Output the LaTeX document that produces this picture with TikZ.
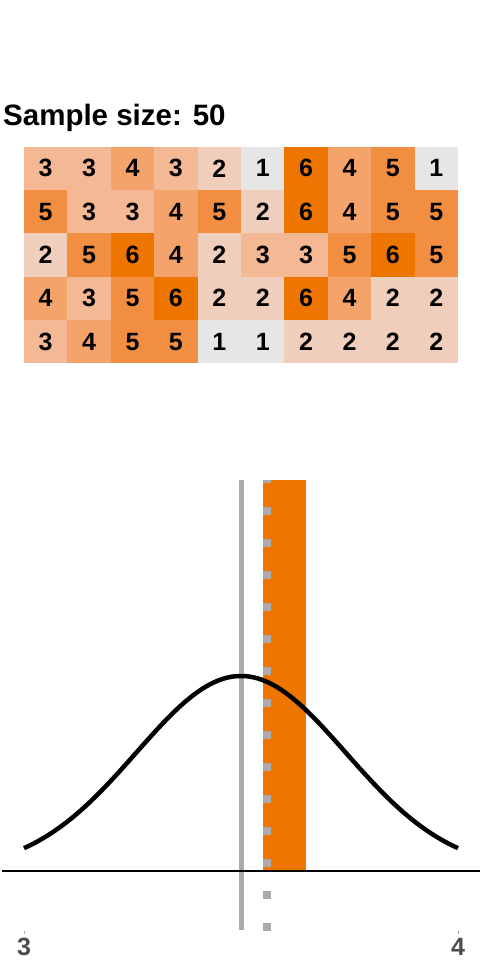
\documentclass[tikz,border=0pt]{standalone}
\usepackage{fontspec}
\setmainfont{Liberation Sans}
\definecolor{v1}{HTML}{E6E6E6}
\definecolor{v2}{HTML}{F0CEBC}
\definecolor{v3}{HTML}{F4B895}
\definecolor{v4}{HTML}{F4A46A}
\definecolor{v5}{HTML}{F28E42}
\definecolor{v6}{HTML}{EE7600}
\definecolor{ciorange}{HTML}{EE7600}
\definecolor{refgray}{HTML}{ABABAB}
\definecolor{ticktext}{HTML}{4D4D4D}
\tikzset{
  cellbox/.style={inner sep=0pt, minimum width=43.4pt, minimum height=43.3pt, font=\fontsize{25}{25}\selectfont\bfseries},
  titletext/.style={anchor=base west, inner sep=0pt, font=\fontsize{29.5}{30}\selectfont\bfseries},
  ticklabel/.style={anchor=base, inner sep=0pt, text=ticktext, font=\fontsize{25}{25}\selectfont\bfseries},
}
\begin{document}
\begin{tikzpicture}[x=1pt,y=-1pt]
\useasboundingbox (0,0) rectangle (480,960);
\fill[white] (0,0) rectangle (480,960);
\node[titletext] (title) at (3,125.5) {Sample size: 50};
% grid
\foreach \row [count=\j from 0] in {{3,3,4,3,2,1,6,4,5,1},{5,3,3,4,5,2,6,4,5,5},{2,5,6,4,2,3,3,5,6,5},{4,3,5,6,2,2,6,4,2,2},{3,4,5,5,1,1,2,2,2,2}}{
  \foreach \v [count=\i from 0] in \row {
    \node[cellbox, fill=v\v] (c-\j-\i) at ({24+43.4*(\i+0.5)},{146.7+43.3*(\j+0.5)}) {\v};
  }
}
% plot
\fill[ciorange] (263,480) rectangle (306,870);
\fill[refgray] (263,480) rectangle (271,483);
\foreach \k in {0,...,13}{
  \fill[refgray] (263,{507+32*\k}) rectangle (271,{515+32*\k});
}
\fill[refgray] (239.3,480) rectangle (243.7,930);
\draw[line width=2pt] (2,871) -- (480,871);
\draw[line width=4.5pt, line cap=butt] plot[domain=24:458, samples=120, smooth] (\x,{871-195*exp(-((\x-241)/104.8)^2/2)});
\draw[refgray, line width=0.8pt] (24,931) -- (24,933.5);
\draw[refgray, line width=0.8pt] (458,931) -- (458,933.5);
\node[ticklabel] (t3) at (24,955) {3};
\node[ticklabel] (t4) at (458,955) {4};
\end{tikzpicture}
\end{document}
